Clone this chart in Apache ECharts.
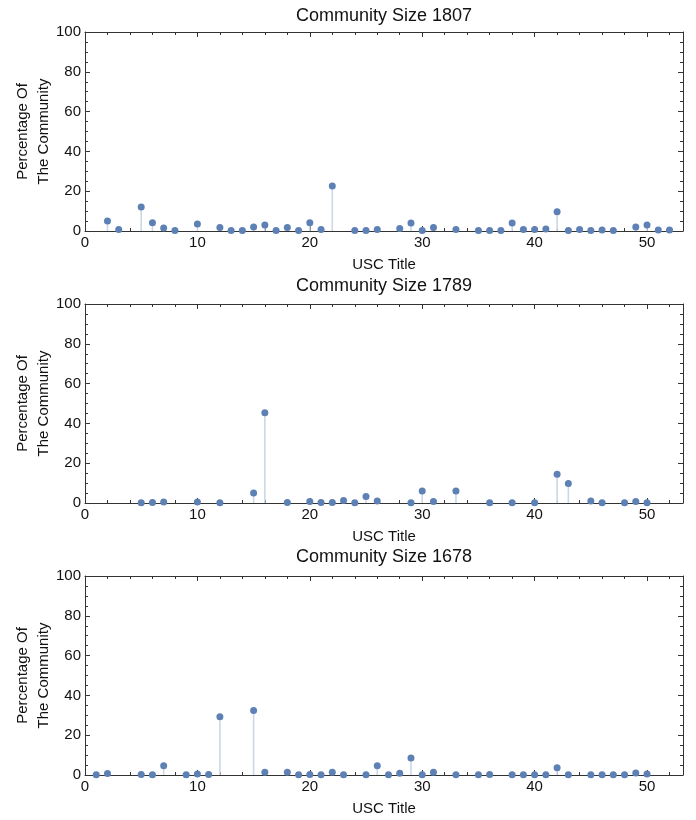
<!DOCTYPE html>
<html><head><meta charset="utf-8">
<script src="https://cdn.jsdelivr.net/npm/echarts@6/dist/echarts.min.js"></script>
<style>html,body{margin:0;padding:0;background:#fff}#c{width:696px;height:820px}</style>
</head><body><div id="c"></div>
<script>
const titles = ['Community Size 1807', 'Community Size 1789', 'Community Size 1678'];
const xName = 'USC Title';
const yName = 'Percentage Of\nThe Community';

const x1 = [2,3,5,6,7,8,10,12,13,14,15,16,17,18,19,20,21,22,24,25,26,28,29,30,31,33,35,36,37,38,39,40,41,42,43,44,45,46,47,49,50,51,52];
const y1 = [5.0,0.7,12.1,4.2,1.5,0.3,3.5,1.8,0.2,0.2,2.0,3.0,0.2,1.7,0.3,4.2,0.8,22.6,0.2,0.3,0.8,1.3,4.0,0.3,1.8,0.7,0.2,0.3,0.2,4.0,0.7,0.8,1.0,9.7,0.2,0.8,0.2,0.5,0.2,2.0,3.0,0.5,0.5];

const x2 = [5,6,7,10,12,15,16,18,20,21,22,23,24,25,26,29,30,31,33,36,38,40,42,43,45,46,48,49,50];
const y2 = [0.1,0.2,0.5,0.5,0.1,5.0,45.3,0.3,0.7,0.2,0.2,1.2,0.1,3.3,1.0,0.1,6.0,0.7,6.0,0.1,0.1,0.1,14.5,9.8,1.0,0.1,0.1,0.7,0.1];

const x3 = [1,2,5,6,7,9,10,11,12,15,16,18,19,20,21,22,23,25,26,27,28,29,30,31,33,35,36,38,39,40,41,42,43,45,46,47,48,49,50];
const y3 = [0.1,0.7,0.2,0.1,4.6,0.1,0.5,0.2,29.3,32.4,1.4,1.4,0.1,0.2,0.1,1.4,0.1,0.1,4.7,0.1,0.9,8.6,0.1,1.4,0.1,0.1,0.2,0.1,0.1,0.1,0.1,3.6,0.1,0.1,0.1,0.1,0.1,1.0,0.5];

const xTicks = [0, 10, 20, 30, 40, 50];
const yTicks = [0, 20, 40, 60, 80, 100];

const panels = [[x1, y1], [x2, y2], [x3, y3]];
const FONT = 'Liberation Sans, Arial, sans-serif';
const frameColor = '#333';
const textColor = '#111';
const gridTops = [32, 304, 576];
const titleTops = [7, 277, 548];
const GL = 85, GW = 598, GH = 199;
const XMAX = 53.2;

const grid = [], xAxis = [], yAxis = [], series = [], title = [];

panels.forEach((p, i) => {
  const g = 2 * i, gm = 2 * i + 1;
  grid.push({left: GL, top: gridTops[i], width: GW, height: GH, containLabel: false, outerBoundsMode: 'none'});
  grid.push({left: GL, top: gridTops[i], width: GW, height: GH, containLabel: false, outerBoundsMode: 'none'});
  title.push({text: titles[i], left: GL + GW / 2, top: titleTops[i], textAlign: 'center', padding: 0,
    textStyle: {fontFamily: FONT, fontSize: 18, fontWeight: 'normal', color: textColor}});

  const lineStyle = {color: frameColor, width: 1};
  const xi = xAxis.length;
  xAxis.push({gridIndex: g, type: 'value', position: 'bottom', min: 0, max: XMAX, interval: 10,
    axisLine: {show: true, onZero: false, lineStyle},
    axisTick: {show: true, inside: true, length: 5, lineStyle},
    axisLabel: {show: true, margin: 4, fontFamily: FONT, fontSize: 15, color: textColor,
      formatter: v => xTicks.includes(v) ? String(v) : ''},
    splitLine: {show: false},
    name: xName, nameLocation: 'middle', nameGap: 26, nameMoveOverlap: false,
    nameTextStyle: {fontFamily: FONT, fontSize: 15, color: textColor}});
  xAxis.push({gridIndex: g, type: 'value', position: 'top', min: 0, max: XMAX, interval: 10,
    axisLine: {show: true, onZero: false, lineStyle},
    axisTick: {show: true, inside: true, length: 5, lineStyle},
    axisLabel: {show: false}, splitLine: {show: false}});
  xAxis.push({gridIndex: gm, type: 'value', position: 'bottom', min: 0, max: XMAX, interval: 2,
    axisLine: {show: false, onZero: false},
    axisTick: {show: true, inside: true, length: 3, lineStyle},
    axisLabel: {show: false}, splitLine: {show: false}});
  xAxis.push({gridIndex: gm, type: 'value', position: 'top', min: 0, max: XMAX, interval: 2,
    axisLine: {show: false, onZero: false},
    axisTick: {show: true, inside: true, length: 3, lineStyle},
    axisLabel: {show: false}, splitLine: {show: false}});

  const yi = yAxis.length;
  yAxis.push({gridIndex: g, type: 'value', position: 'left', min: 0, max: 100, interval: 20,
    axisLine: {show: true, onZero: false, lineStyle},
    axisTick: {show: true, inside: true, length: 5, lineStyle},
    minorTick: {show: true, splitNumber: 4, length: 3, lineStyle},
    axisLabel: {show: true, margin: 4, fontFamily: FONT, fontSize: 15, color: textColor,
      formatter: v => yTicks.includes(v) ? String(v) : ''},
    splitLine: {show: false},
    name: yName, nameLocation: 'middle', nameRotate: 90, nameGap: 31, nameMoveOverlap: false,
    nameTextStyle: {fontFamily: FONT, fontSize: 15, color: textColor, lineHeight: 21}});
  yAxis.push({gridIndex: g, type: 'value', position: 'right', min: 0, max: 100, interval: 20,
    axisLine: {show: true, onZero: false, lineStyle},
    axisTick: {show: true, inside: true, length: 5, lineStyle},
    minorTick: {show: true, splitNumber: 4, length: 3, lineStyle},
    axisLabel: {show: false}, splitLine: {show: false}});
  yAxis.push({gridIndex: gm, type: 'value', min: 0, max: 100, show: false});

  const data = p[0].map((x, k) => [x, p[1][k]]);
  series.push({type: 'custom', xAxisIndex: xi, yAxisIndex: yi, data, z: 3, silent: true,
    renderItem: (params, api) => {
      const a = api.coord([api.value(0), 0]);
      const b = api.coord([api.value(0), api.value(1)]);
      return {type: 'line', shape: {x1: a[0], y1: a[1], x2: b[0], y2: b[1]},
        style: {stroke: '#cdd7e7', lineWidth: 1.6}};
    }});
  series.push({type: 'scatter', xAxisIndex: xi, yAxisIndex: yi, data, z: 4, silent: true,
    symbol: 'circle', symbolSize: 7, clip: false,
    itemStyle: {color: '#5E81B5', opacity: 1}});
});

const chart = echarts.init(document.getElementById('c'), null, {renderer: 'canvas'});
chart.setOption({animation: false, backgroundColor: '#fff', title, grid, xAxis, yAxis, series});
</script>
</body></html>
